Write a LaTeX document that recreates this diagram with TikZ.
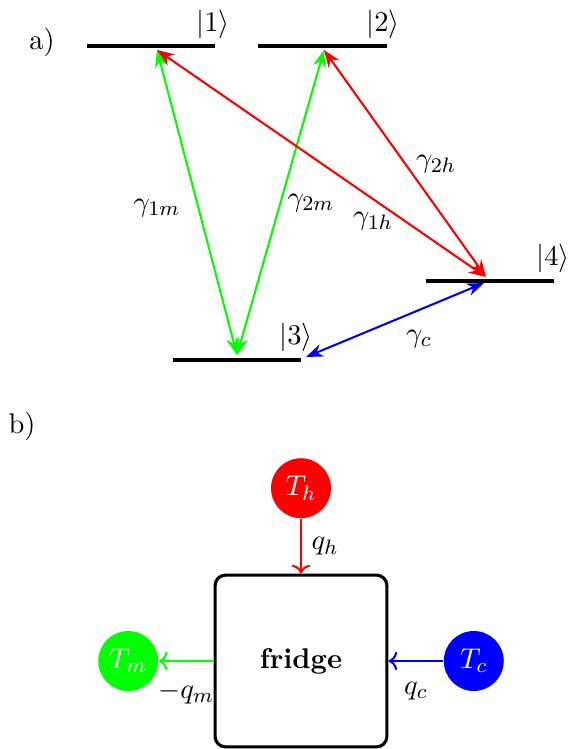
\documentclass[tikz,border=0pt,11pt]{standalone}
\usetikzlibrary{arrows.meta, positioning}

\begin{document}
\begin{tikzpicture}[
	x=0.01351cm, y=-0.01351cm,
	node distance=0.74cm,
	level/.style={very thick},
	trans/.style={thick, {Stealth}-{Stealth}},
	flow/.style={thick, ->},
	bath/.style={circle, minimum size=0.81cm, inner sep=0pt, text=white},
	fridgebox/.style={draw, very thick, rounded corners=4pt, minimum size=2.32cm},
	ratelabel/.style={inner sep=1pt}
	]
	\useasboundingbox (0,0) rectangle (580,749);
	
	% --- a) levels ---
	\node (a) at (42,42) {a)};
	\draw[level] (87,46) -- (215,46);
	\draw[level] (258,46) -- (387,46);
	\draw[level] (173,360) -- (301,360);
	\draw[level] (426,281) -- (554,281);
	\node (k1) at (213,24) {$|1\rangle$};
	\node (k2) at (383,24) {$|2\rangle$};
	\node (k3) at (296,337) {$|3\rangle$};
	\node (k4) at (553,258) {$|4\rangle$};
	
	% end points of the transitions
	\coordinate (p1) at (157,50);
	\coordinate (p2) at (324,50);
	\coordinate (p3) at (237,355);
	\coordinate (p3c) at (306,357);
	\coordinate (p4) at (486,277);
	\coordinate (p4c) at (484,283);
	
	\draw[trans, green] (p1) -- (p3);
	\draw[trans, green] (p2) -- (p3);
	\draw[trans, red] (p1) -- (p4);
	\draw[trans, red] (p2) -- (p4);
	\draw[trans, blue] (p4c) -- (p3c);
	
	\node[ratelabel] (g1m) at (157,208) {$\gamma_{1m}$};
	\node[ratelabel] (g2m) at (311,203) {$\gamma_{2m}$};
	\node[ratelabel] (g1h) at (373,221) {$\gamma_{1h}$};
	\node[ratelabel] (g2h) at (436,164) {$\gamma_{2h}$};
	\node[ratelabel] (gc) at (419,339) {$\gamma_c$};
	
	% --- b) fridge and baths ---
	\node (b) at (22,426) {b)};
	\node[fridgebox] (fridge) at (301,661) {\textbf{fridge}};
	\node[bath, fill=red, above=of fridge] (Th) {$T_h$};
	\node[bath, fill=green, left=of fridge] (Tm) {$T_m$};
	\node[bath, fill=blue, right=of fridge] (Tc) {$T_c$};
	
	\draw[flow, red] (Th) -- node[right, black] {$q_h$} (fridge);
	\draw[flow, green] (fridge) -- node[below=4pt, black] {$-q_m$} (Tm);
	\draw[flow, blue] (Tc) -- node[below=4pt, black] {$q_c$} (fridge);
	
\end{tikzpicture}
\end{document}
